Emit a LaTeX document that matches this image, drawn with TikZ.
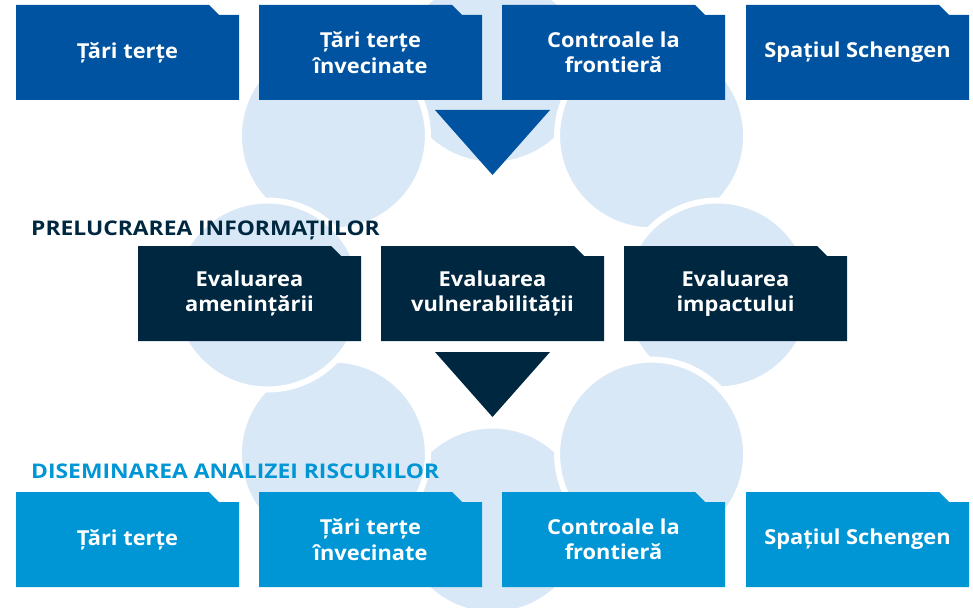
\documentclass[tikz,border=0pt]{standalone}
\usepackage{fontspec}
\setmainfont{Open Sans}
\newfontfamily\boxfont[FakeStretch=1.06]{Open Sans}
\newfontfamily\headfont[FakeStretch=1.13]{Open Sans}
\definecolor{topblue}{RGB}{0,83,160}
\definecolor{navy}{RGB}{0,39,64}
\definecolor{skyblue}{RGB}{0,150,214}
\definecolor{bubbleblue}{RGB}{217,232,246}
\newcommand{\foldbox}[5]{% name, x-centre, y-centre, colour, text
  \fill[#4] (#2-111.5,#3-47.5) -- (#2+81.5,#3-47.5) -- (#2+91.5,#3-37.5)
    -- (#2+111.5,#3-37.5) -- (#2+111.5,#3+47.5) -- (#2-111.5,#3+47.5) -- cycle;
  \node[boxtext] (#1) at (#2,#3) {#5};
}
\begin{document}
\begin{tikzpicture}[x=1pt,y=-1pt,
  bubble/.style={fill=bubbleblue, draw=white, line width=6pt},
  boxtext/.style={text=white, align=center, inner sep=0pt,
    font=\boxfont\bfseries\fontsize{20.6}{25.5}\selectfont},
  heading/.style={anchor=base west, inner sep=0pt,
    font=\headfont\bfseries\fontsize{20.2}{22}\selectfont}]
\useasboundingbox (0,0) rectangle (973,607);
% background ring of circles
\path[bubble] (492.5,70) circle[radius=94.5pt];
\path[bubble] (651.6,135.9) circle[radius=94.5pt];
\path[bubble] (333.4,135.9) circle[radius=94.5pt];
\path[bubble] (717.5,295) circle[radius=94.5pt];
\path[bubble] (492.5,520) circle[radius=94.5pt];
\path[bubble] (333.4,454.1) circle[radius=94.5pt];
\path[bubble] (267.5,295) circle[radius=94.5pt];
\path[bubble] (651.6,454.1) circle[radius=94.5pt];
% top row
\foldbox{t1}{127.5}{52.5}{topblue}{Țări terțe}
\foldbox{t2}{370.5}{52.5}{topblue}{Țări terțe\\învecinate}
\foldbox{t3}{613.5}{52.5}{topblue}{Controale la\\frontieră}
\foldbox{t4}{857.5}{52.5}{topblue}{Spațiul Schengen}
% arrow 1
\fill[topblue] (435,110) coordinate (a1l) -- (550,110) coordinate (a1r) -- (492.5,175) coordinate (a1t) -- cycle;
% heading 2
\node[heading, text=navy] (h1) at (31,235) {PRELUCRAREA INFORMAȚIILOR};
\foldbox{m1}{249.5}{293.5}{navy}{Evaluarea\\amenințării}
\foldbox{m2}{492.5}{293.5}{navy}{Evaluarea\\vulnerabilității}
\foldbox{m3}{735.5}{293.5}{navy}{Evaluarea\\impactului}
% arrow 2
\fill[navy] (435,352) coordinate (a2l) -- (550,352) coordinate (a2r) -- (492.5,417) coordinate (a2t) -- cycle;
% heading 3
\node[heading, text=skyblue] (h2) at (31,478) {DISEMINAREA ANALIZEI RISCURILOR};
\foldbox{b1}{127.5}{539.5}{skyblue}{Țări terțe}
\foldbox{b2}{370.5}{539.5}{skyblue}{Țări terțe\\învecinate}
\foldbox{b3}{613.5}{539.5}{skyblue}{Controale la\\frontieră}
\foldbox{b4}{857.5}{539.5}{skyblue}{Spațiul Schengen}
\end{tikzpicture}
\end{document}
